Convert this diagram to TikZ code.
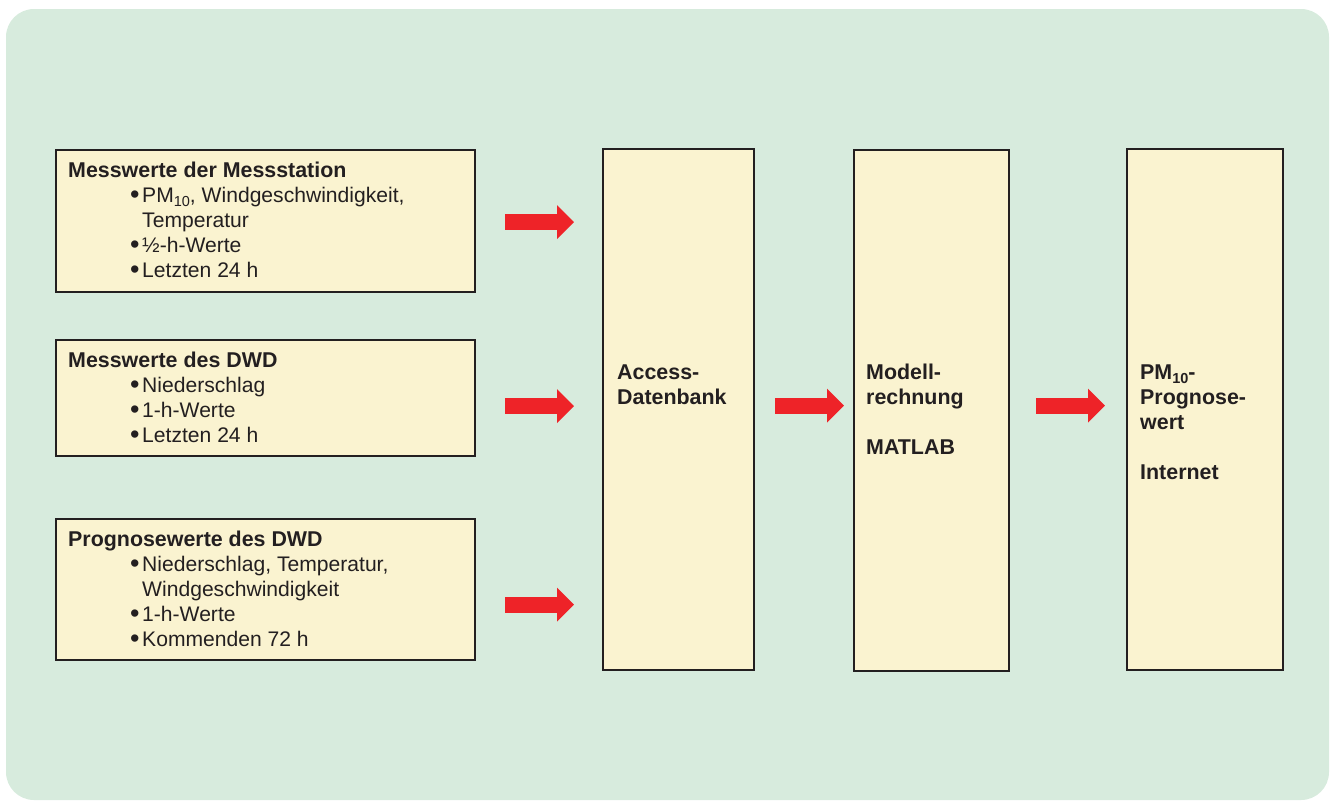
\documentclass[tikz,border=0pt]{standalone}
\usepackage{fontspec}
\setmainfont{Liberation Sans}
\usetikzlibrary{arrows.meta,calc}
\definecolor{mint}{HTML}{D7EBDD}
\definecolor{cream}{HTML}{FAF3D0}
\definecolor{ink}{HTML}{231F20}
\definecolor{arrowred}{HTML}{EE2328}
\newcommand\bul{\makebox[12pt][l]{\raisebox{-1.6pt}{\fontsize{27}{25}\selectfont •}}}
\newcommand\sub[1]{\raisebox{-0.22em}{\fontsize{14.5}{14.5}\selectfont #1}}
\begin{document}
\begin{tikzpicture}[x=1pt,y=-1pt,
  box/.style={draw=ink,line width=2.2pt,fill=cream,anchor=north west,inner sep=0pt},
  txt/.style={anchor=base west,inner sep=0pt,text=ink,font=\fontsize{21.1}{25}\selectfont},
  head/.style={txt,font=\fontsize{21.4}{25}\selectfont\bfseries},
  blockarrow/.style={draw=arrowred,line width=16pt,-{Triangle[length=17pt,width=33pt]}}]
\useasboundingbox (0,0) rectangle (1335,801);
% background panel
\fill[mint,rounded corners=28pt] (6,9) rectangle (1329,800);

% input boxes
\node[box,minimum width=419,minimum height=142] (b1) at (55,149) {};
\node[box,minimum width=419,minimum height=116] (b2) at (55,339) {};
\node[box,minimum width=419,minimum height=141] (b3) at (55,518) {};
% processing columns
\node[box,minimum width=151,minimum height=521] (acc) at (602,148) {};
\node[box,minimum width=155,minimum height=521] (mod) at (853,149) {};
\node[box,minimum width=156,minimum height=521] (out) at (1126,148) {};

% texts of the first input box
\node[head] (t1) at (68,177) {Messwerte der Messstation};
\node[txt] (t1a) at (130,202) {\bul PM\sub{10}, Windgeschwindigkeit,};
\node[txt] (t1b) at (142,227) {Temperatur};
\node[txt] (t1c) at (130,252) {\bul ½-h-Werte};
\node[txt] (t1d) at (130,277) {\bul Letzten 24 h};

% texts of the second input box
\node[head] (t2) at (68,367) {Messwerte des DWD};
\node[txt] (t2a) at (130,392) {\bul Niederschlag};
\node[txt] (t2b) at (130,417) {\bul 1-h-Werte};
\node[txt] (t2c) at (130,442) {\bul Letzten 24 h};

% texts of the third input box
\node[head] (t3) at (68,546) {Prognosewerte des DWD};
\node[txt] (t3a) at (130,571) {\bul Niederschlag, Temperatur,};
\node[txt] (t3b) at (142,596) {Windgeschwindigkeit};
\node[txt] (t3c) at (130,621) {\bul 1-h-Werte};
\node[txt] (t3d) at (130,646) {\bul Kommenden 72 h};

% column labels
\node[head] (c1a) at (617,379) {Access-};
\node[head] (c1b) at (617,404) {Datenbank};
\node[head] (c2a) at (866,379) {Modell-};
\node[head] (c2b) at (866,404) {rechnung};
\node[head] (c2c) at (866,454) {MATLAB};
\node[head] (c3a) at (1140,379) {PM\sub{10}-};
\node[head] (c3b) at (1140,404) {Prognose-};
\node[head] (c3c) at (1140,429) {wert};
\node[head] (c3d) at (1140,479) {Internet};

% arrow start points
\coordinate (s1) at ($(b1.east)+(29,1)$);
\coordinate (s2) at ($(b2.east)+(29,8)$);
\coordinate (s3) at ($(b3.east)+(29,15)$);
\coordinate (s4) at ($(acc.east)+(20,-4)$);
\coordinate (s5) at ($(mod.east)+(26,-5)$);

\draw[blockarrow] (s1) -- ($(acc.west |- s1)+(-28,0)$);
\draw[blockarrow] (s2) -- ($(acc.west |- s2)+(-28,0)$);
\draw[blockarrow] (s3) -- ($(acc.west |- s3)+(-28,0)$);
\draw[blockarrow] (s4) -- ($(mod.west |- s4)+(-9,0)$);
\draw[blockarrow] (s5) -- ($(out.west |- s5)+(-21,0)$);
\end{tikzpicture}
\end{document}
